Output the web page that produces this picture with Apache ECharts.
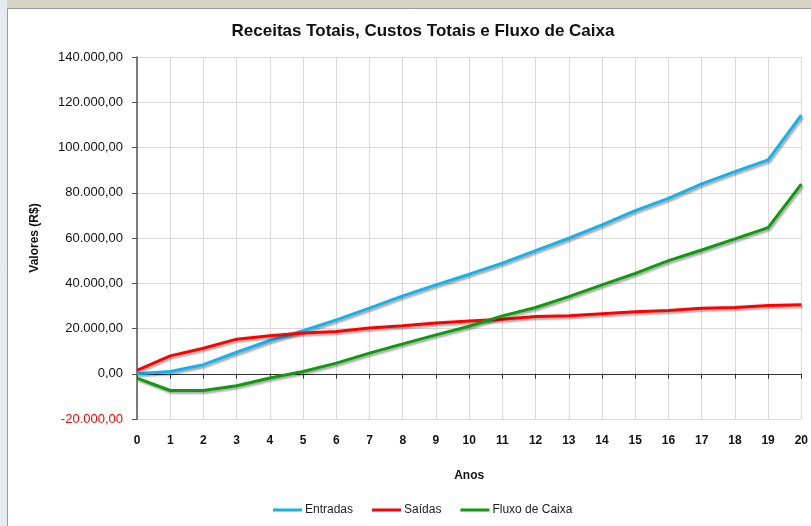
<!DOCTYPE html>
<html>
<head>
<meta charset="utf-8">
<script src="https://cdn.jsdelivr.net/npm/echarts@6/dist/echarts.min.js"></script>
<style>
html,body{margin:0;padding:0;background:#fff;}
#c{width:811px;height:526px;}
</style>
</head>
<body>
<div id="c"></div>
<script>
var anos = ['0','1','2','3','4','5','6','7','8','9','10','11','12','13','14','15','16','17','18','19','20'];
var entradas = [0, 1000, 4000, 9500, 14700, 19000, 23800, 29000, 34400, 39300, 44000, 48900, 54400, 59900, 65800, 72100, 77500, 83900, 89300, 94500, 114300];
var saidas = [1500, 7900, 11300, 15300, 16800, 18000, 18700, 20200, 21200, 22400, 23300, 24100, 25300, 25600, 26500, 27400, 28000, 29000, 29300, 30200, 30500];
var fluxo = [-1900, -7400, -7400, -5300, -1900, 1000, 4700, 9100, 13200, 17200, 21000, 25600, 29300, 34100, 39300, 44400, 50000, 54700, 59600, 64600, 83800];
var seriesNames = ['Entradas', 'Saídas', 'Fluxo de Caixa'];
var seriesColors = ['#14b1ec', '#ff0000', '#0d9a0d'];

function fmtBR(v){
  var neg = v < 0; v = Math.abs(v);
  var s = Math.round(v).toString();
  s = s.replace(/\B(?=(\d{3})+(?!\d))/g, '.');
  return (neg ? '-' : '') + s + ',00';
}

var chart = echarts.init(document.getElementById('c'), null, {renderer:'canvas'});
var font = '"Liberation Sans", Arial, sans-serif';
function mk(name, data, color){
  return {
    name: name, type: 'line', data: data, symbol: 'none', xAxisIndex: 0,
    lineStyle: {color: color, width: 3, shadowColor: 'rgba(0,0,0,0.35)', shadowBlur: 2, shadowOffsetX: 1.5, shadowOffsetY: 2},
    itemStyle: {color: color}
  };
}
chart.setOption({
  animation: false,
  backgroundColor: '#fff',
  graphic: [
    {type:'rect', shape:{x:0,y:0,width:811,height:8}, style:{fill:'#d8d2c4'}, silent:true},
    {type:'rect', shape:{x:0,y:0,width:7,height:526}, style:{fill:'#e6ebf3'}, silent:true},
    {type:'rect', shape:{x:7.5,y:8.5,width:820,height:540}, style:{fill:'none', stroke:'#9a9a9a', lineWidth:1}, silent:true}
  ],
  title: {
    text: 'Receitas Totais, Custos Totais e Fluxo de Caixa',
    left: 418, textAlign: 'center', top: 18,
    textStyle: {fontFamily: font, fontSize: 17, fontWeight: 'bold', color: '#111'}
  },
  legend: {
    data: seriesNames, bottom: 5, left: 268, itemWidth: 29, itemHeight: 3, itemGap: 19,
    icon: 'rect',
    textStyle: {fontFamily: font, fontSize: 12, color: '#222', padding: [0,0,0,-2]}
  },
  grid: {left: 137, right: 8, top: 57, bottom: 107, containLabel: false},
  xAxis: [
    {
      type: 'category', data: anos, boundaryGap: false, position: 'bottom',
      name: 'Anos', nameLocation: 'middle', nameGap: 51,
      nameTextStyle: {fontFamily: font, fontSize: 12, fontWeight: 'bold', color: '#111'},
      axisLine: {show: false, onZero: false},
      axisTick: {show: false},
      axisLabel: {fontFamily: font, fontSize: 12, color: '#111', fontWeight: 'bold', margin: 16},
      splitLine: {show: true, lineStyle: {color: '#d9d9d9', width: 1}}
    },
    {
      type: 'category', data: anos, boundaryGap: false, position: 'bottom',
      axisLine: {show: true, onZero: true, lineStyle: {color: '#333', width: 1}},
      axisTick: {show: true, inside: false, length: 5, lineStyle: {color: '#333'}},
      axisLabel: {show: false},
      splitLine: {show: false}
    }
  ],
  yAxis: {
    type: 'value', min: -20000, max: 140000, interval: 20000,
    name: 'Valores (R$)', nameLocation: 'middle', nameGap: 96,
    nameTextStyle: {fontFamily: font, fontSize: 12, fontWeight: 'bold', color: '#111'},
    axisLine: {show: true, lineStyle: {color: '#555', width: 1.5}},
    axisTick: {show: true, length: 5, lineStyle: {color: '#555'}},
    axisLabel: {
      fontFamily: font, fontSize: 13, margin: 14,
      formatter: function(v){ return fmtBR(v); },
      color: function(v){ return Number(v) < 0 ? '#ff0000' : '#111'; }
    },
    splitLine: {show: true, lineStyle: {color: '#d9d9d9', width: 1}}
  },
  series: [
    mk(seriesNames[0], entradas, seriesColors[0]),
    mk(seriesNames[1], saidas, seriesColors[1]),
    mk(seriesNames[2], fluxo, seriesColors[2])
  ]
});
</script>
</body>
</html>
